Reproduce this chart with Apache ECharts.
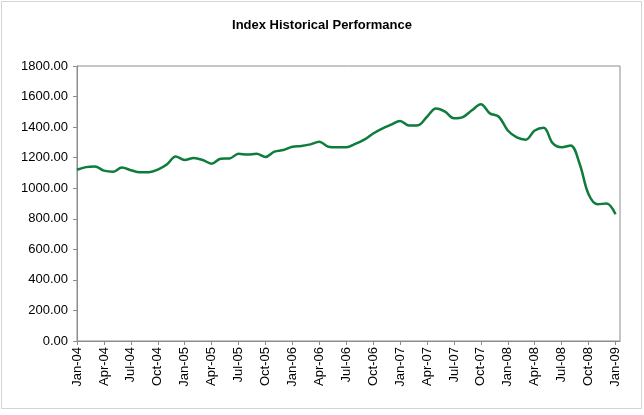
<!DOCTYPE html>
<html>
<head>
<meta charset="utf-8">
<script src="https://cdn.jsdelivr.net/npm/echarts@6/dist/echarts.min.js"></script>
<style>
html,body{margin:0;padding:0;background:#fff;}
#chart{width:644px;height:415px;}
</style>
</head>
<body>
<div id="chart"></div>
<script>
const months = ["Jan-04","Feb-04","Mar-04","Apr-04","May-04","Jun-04","Jul-04","Aug-04","Sep-04","Oct-04","Nov-04","Dec-04",
"Jan-05","Feb-05","Mar-05","Apr-05","May-05","Jun-05","Jul-05","Aug-05","Sep-05","Oct-05","Nov-05","Dec-05",
"Jan-06","Feb-06","Mar-06","Apr-06","May-06","Jun-06","Jul-06","Aug-06","Sep-06","Oct-06","Nov-06","Dec-06",
"Jan-07","Feb-07","Mar-07","Apr-07","May-07","Jun-07","Jul-07","Aug-07","Sep-07","Oct-07","Nov-07","Dec-07",
"Jan-08","Feb-08","Mar-08","Apr-08","May-08","Jun-08","Jul-08","Aug-08","Sep-08","Oct-08","Nov-08","Dec-08",
"Jan-09"];
const indexValues = [1121,1138,1142,1115,1108,1135,1118,1104,1105,1122,1155,1208,
1185,1198,1185,1160,1193,1195,1225,1220,1225,1205,1240,1250,
1272,1277,1287,1305,1272,1268,1268,1290,1318,1358,1390,1416,
1440,1410,1412,1468,1522,1502,1458,1466,1510,1549,1490,1468,
1378,1333,1318,1378,1396,1295,1268,1280,1160,960,895,900,
830];
const yTicks = [0,200,400,600,800,1000,1200,1400,1600,1800];

const chart = echarts.init(document.getElementById('chart'), null, {renderer:'canvas'});
const font = '"Liberation Sans", Arial, sans-serif';
chart.setOption({
  animation:false,
  backgroundColor:'#ffffff',
  graphic:[{type:'rect',shape:{x:1.5,y:1.5,width:640,height:407},style:{fill:'none',stroke:'#d4d4d4',lineWidth:1},silent:true,z:-1}],
  title:{text:'Index Historical Performance',left:'center',top:14,
    textStyle:{fontFamily:font,fontSize:13,fontWeight:'bold',color:'#000'}},
  grid:{left:77,right:24,top:66,bottom:74,show:true,borderColor:'#8c8c8c',borderWidth:1,backgroundColor:'#fff'},
  xAxis:{type:'value',min:0,max:60.5,interval:3,
    axisLine:{show:true,lineStyle:{color:'#8c8c8c',width:1}},
    axisTick:{show:true,length:4,lineStyle:{color:'#8c8c8c'}},
    splitLine:{show:false},
    axisLabel:{rotate:90,margin:6,fontFamily:font,fontSize:13,color:'#000',
      showMaxLabel:false,
      formatter:function(v){return Number.isInteger(v)&&months[v]?months[v]:'';}}
  },
  yAxis:{type:'value',min:yTicks[0],max:yTicks[yTicks.length-1],interval:200,
    axisLine:{show:true,lineStyle:{color:'#8c8c8c',width:1}},
    axisTick:{show:true,length:4,lineStyle:{color:'#8c8c8c'}},
    splitLine:{show:false},
    axisLabel:{margin:9,fontFamily:font,fontSize:13,color:'#000',formatter:function(v){return v.toFixed(2);}}
  },
  series:[{type:'line',data:indexValues.map((v,i)=>[i,v]),smooth:0.35,showSymbol:false,
    lineStyle:{color:'#0e7c3a',width:2.5},itemStyle:{color:'#0e7c3a'}}]
});
</script>
</body>
</html>
